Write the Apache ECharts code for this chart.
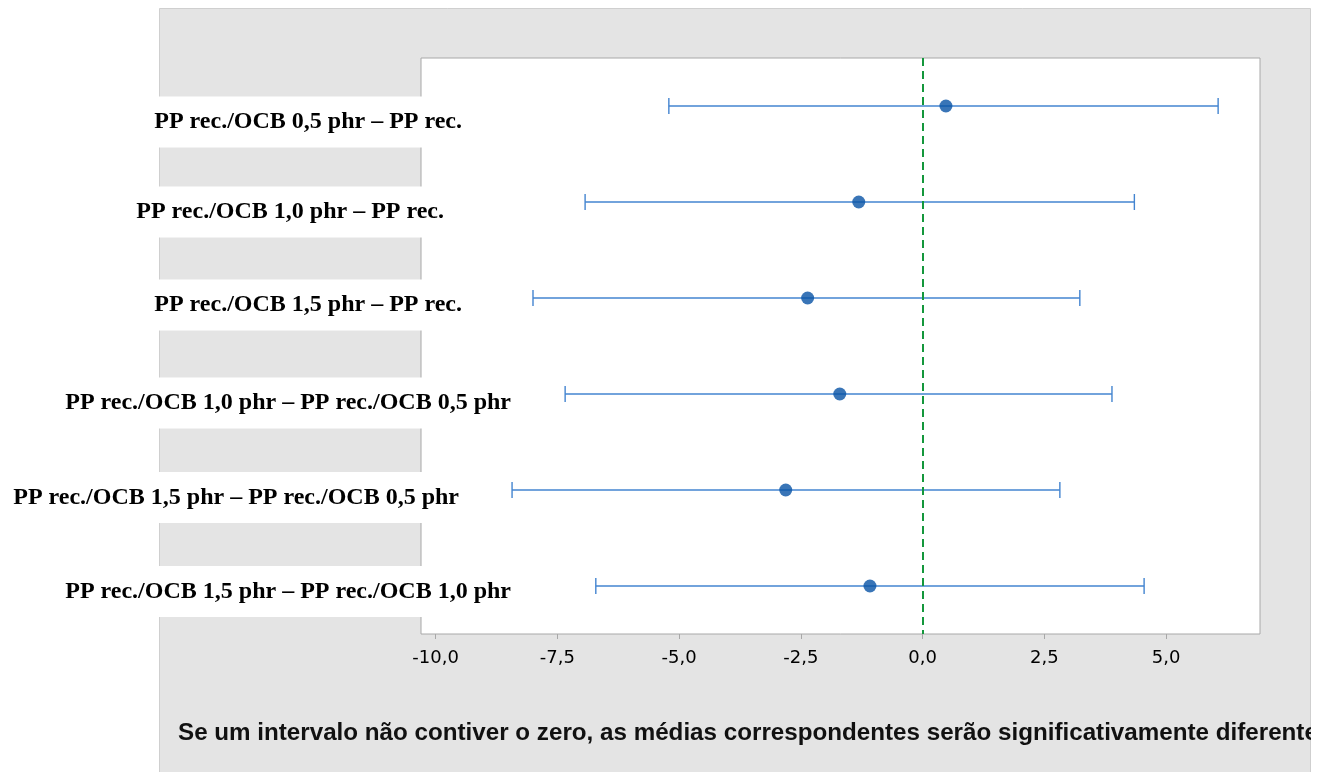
<!DOCTYPE html>
<html>
<head>
<meta charset="utf-8">
<script src="https://cdn.jsdelivr.net/npm/echarts@6/dist/echarts.min.js"></script>
<style>
  html, body { margin: 0; padding: 0; background: #fff; }
  #chart { width: 1329px; height: 772px; }
</style>
</head>
<body>
<div id="chart"></div>
<script>
// ---- data ----
const categories = [
  'PP rec./OCB 0,5 phr – PP rec.',
  'PP rec./OCB 1,0 phr – PP rec.',
  'PP rec./OCB 1,5 phr – PP rec.',
  'PP rec./OCB 1,0 phr – PP rec./OCB 0,5 phr',
  'PP rec./OCB 1,5 phr – PP rec./OCB 0,5 phr',
  'PP rec./OCB 1,5 phr – PP rec./OCB 1,0 phr'
];
const centers = [0.48, -1.31, -2.36, -1.70, -2.81, -1.08];
const lowers  = [-5.21, -6.93, -8.00, -7.34, -8.43, -6.71];
const uppers  = [6.07, 4.35, 3.23, 3.89, 2.82, 4.55];
const tickValues = [-10, -7.5, -5, -2.5, 0, 2.5, 5];
const footnote = 'Se um intervalo não contiver o zero, as médias correspondentes serão significativamente diferentes';

// ---- layout (label placement per row) ----
const labelAnchorX = 512;               // right end of label boxes
const labelShift = [16, 10, 7, 9, 7.5, 5.5];   // box centre below the row
const labelRight = [462, 444, 462, 511, 459, 511]; // text right edge

const rich = {};
categories.forEach((c, i) => {
  rich['g' + i] = { fontSize: 2, height: 2 * labelShift[i], lineHeight: 2 * labelShift[i] };
  rich['b' + i] = {
    backgroundColor: '#ffffff',
    height: 51, lineHeight: 51,
    padding: [0, Math.max(0, labelAnchorX - labelRight[i]), 0, 8],
    fontFamily: 'Liberation Serif', fontWeight: 'bold', fontSize: 24, color: '#000'
  };
});

const gridLeft = 421, gridRight = 1260, gridTop = 58, gridBottom = 634;

const chart = echarts.init(document.getElementById('chart'), null, { renderer: 'canvas' });
chart.setOption({
  animation: false,
  backgroundColor: '#ffffff',
  title: {
    text: footnote,
    left: 178, top: 721, padding: 0,
    textStyle: { fontFamily: 'Liberation Sans', fontWeight: 'bold', fontSize: 24.2, color: '#111' }
  },
  graphic: [
    { type: 'rect', z: -100, shape: { x: 159.5, y: 8.5, width: 1151, height: 780 },
      style: { fill: '#e4e4e4', stroke: '#cfcfcf', lineWidth: 1 } },
    { type: 'rect', z: 100, shape: { x: 1311, y: 690, width: 30, height: 90 },
      style: { fill: '#ffffff' } }
  ],
  grid: {
    left: gridLeft, right: 1329 - gridRight, top: gridTop, bottom: 772 - gridBottom,
    outerBoundsMode: 'none', containLabel: false,
    show: true, backgroundColor: '#ffffff', borderColor: '#a8a8a8', borderWidth: 1, z: 0
  },
  xAxis: {
    type: 'value', min: -10.3, max: 6.93, z: 1,
    axisLine: { show: false },
    splitLine: { show: false },
    axisTick: { show: true, customValues: tickValues, length: 5, lineStyle: { color: '#a8a8a8' } },
    axisLabel: {
      customValues: tickValues, margin: 15,
      formatter: v => v.toFixed(1).replace('.', ','),
      fontFamily: 'DejaVu Sans', fontSize: 18, color: '#000'
    }
  },
  yAxis: {
    type: 'category', data: categories, inverse: true, z: 1,
    axisLine: { show: false }, axisTick: { show: false }, splitLine: { show: false },
    axisLabel: {
      interval: 0, margin: gridLeft - labelAnchorX,
      formatter: (v, i) => '{g' + i + '| }\n{b' + i + '|' + v + '}',
      rich: rich
    }
  },
  series: [
    {
      type: 'custom', z: 2,
      data: categories.map((c, i) => [lowers[i], uppers[i], i]),
      encode: { x: [0, 1], y: 2 },
      renderItem: (params, api) => {
        const y = api.value(2);
        const a = api.coord([api.value(0), y]);
        const b = api.coord([api.value(1), y]);
        const h = 8;
        const st = { stroke: '#4384d0', lineWidth: 1.4 };
        return {
          type: 'group',
          children: [
            { type: 'line', shape: { x1: a[0], y1: a[1], x2: b[0], y2: b[1] }, style: st },
            { type: 'line', shape: { x1: a[0], y1: a[1] - h, x2: a[0], y2: a[1] + h }, style: st },
            { type: 'line', shape: { x1: b[0], y1: b[1] - h, x2: b[0], y2: b[1] + h }, style: st }
          ]
        };
      }
    },
    {
      type: 'scatter', z: 3,
      data: categories.map((c, i) => [centers[i], i]),
      symbol: 'circle', symbolSize: 13,
      itemStyle: { color: '#0753a5' },
      markLine: {
        silent: true, symbol: 'none',
        label: { show: false },
        lineStyle: { color: '#14973c', type: [8, 5], width: 2 },
        data: [{ xAxis: 0 }]
      }
    }
  ]
});
</script>
</body>
</html>
